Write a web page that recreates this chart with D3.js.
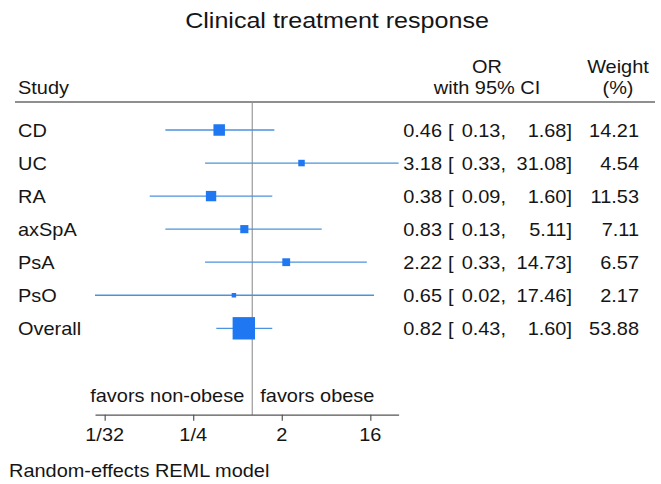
<!DOCTYPE html>
<html>
<head>
<meta charset="utf-8">
<script src="https://cdn.jsdelivr.net/npm/d3@7/dist/d3.min.js"></script>
<style>
    body { margin: 0; background: #fff; }
    text { font-family: "Liberation Sans", Arial, Helvetica, sans-serif; fill: #151515; }
</style>
</head>
<body>
<div id="chart"></div>
<script>
// 数据
const studies = ['CD', 'UC', 'RA', 'axSpA', 'PsA', 'PsO', 'Overall'];
const orValues = [0.46, 3.18, 0.38, 0.83, 2.22, 0.65, 0.82];
const ciLow = [0.13, 0.33, 0.09, 0.13, 0.33, 0.0249, 0.43];
const ciHigh = [1.68, 31.08, 1.60, 5.11, 14.73, 17.46, 1.60];
const weights = [14.21, 4.54, 11.53, 7.11, 6.57, 2.17, 53.88];
const tickValues = [1 / 32, 1 / 4, 2, 16];
const tickLabels = ['1/32', '1/4', '2', '16'];

const W = 661, H = 484;
const SX = 1.14;   // 原图文字横向拉伸
const FS = 17.5;   // 正文字号

const svg = d3.select('#chart').append('svg')
    .attr('width', W)
    .attr('height', H);

// 文字辅助函数
function label(x, y, str, anchor, size) {
    return svg.append('text')
        .attr('transform', `translate(${x},${y}) scale(${SX},1)`)
        .attr('text-anchor', anchor || 'start')
        .style('font-size', (size || FS) + 'px')
        .text(str);
}

// 比例尺
const x = d3.scaleLog().base(2)
    .domain([d3.min(ciLow), d3.max(ciHigh)])
    .range([95, 398.6]);

const y = d3.scalePoint()
    .domain(studies)
    .range([130, 328.3]);

const size = d3.scaleSqrt().domain([0, 100]).range([0, 30.5]);

// 标题和表头
label(337, 28, 'Clinical treatment response', 'middle', 22);
label(18, 94, 'Study');
label(487, 73, 'OR', 'middle');
label(487, 94, 'with 95% CI', 'middle');
label(618, 73, 'Weight', 'middle');
label(618, 94, '(%)', 'middle');

svg.append('line')
    .attr('x1', 15).attr('x2', 655)
    .attr('y1', 102).attr('y2', 102)
    .attr('stroke', '#6a6a6a')
    .attr('stroke-width', 1.5);

// 无效线
svg.append('line')
    .attr('x1', x(1)).attr('x2', x(1))
    .attr('y1', 103).attr('y2', 415)
    .attr('stroke', '#9a9a9a')
    .attr('stroke-width', 1.2);

// 置信区间和方块
const rows = studies.map((s, i) => ({
    study: s, or: orValues[i], lo: ciLow[i], hi: ciHigh[i], w: weights[i]
}));

svg.selectAll('.ci').data(rows).enter().append('line')
    .attr('class', 'ci')
    .attr('x1', d => x(d.lo)).attr('x2', d => x(d.hi))
    .attr('y1', d => y(d.study)).attr('y2', d => y(d.study))
    .attr('stroke', '#4b93dc')
    .attr('stroke-width', 1.3);

svg.selectAll('.box').data(rows).enter().append('rect')
    .attr('class', 'box')
    .attr('x', d => x(d.or) - size(d.w) / 2)
    .attr('y', d => y(d.study) - size(d.w) / 2)
    .attr('width', d => size(d.w))
    .attr('height', d => size(d.w))
    .attr('fill', '#1f78f2');

// 行文字
rows.forEach(d => {
    const yy = y(d.study) + 6.5;
    label(18, yy, d.study);
    label(442, yy, d.or.toFixed(2), 'end');
    label(448, yy, '[');
    label(506, yy, d.lo.toFixed(2) + ',', 'end');
    label(572, yy, d.hi.toFixed(2) + ']', 'end');
    label(639, yy, d.w.toFixed(2), 'end');
});

// 坐标轴
const axis = d3.axisBottom(x)
    .tickValues(tickValues)
    .tickFormat((d, i) => tickLabels[i])
    .tickSize(6)
    .tickSizeOuter(0);

const gx = svg.append('g')
    .attr('transform', 'translate(0,414.7)')
    .call(axis);

gx.select('.domain').attr('stroke', '#555').attr('stroke-width', 1.3);
gx.selectAll('.tick line').attr('stroke', '#555').attr('stroke-width', 1.2);
gx.selectAll('.tick text').remove();

tickValues.forEach((v, i) => label(x(v), 441, tickLabels[i], 'middle'));

label(x(1) - 8, 402, 'favors non-obese', 'end');
label(x(1) + 8, 402, 'favors obese', 'start');

label(9, 477, 'Random-effects REML model');
</script>
</body>
</html>
